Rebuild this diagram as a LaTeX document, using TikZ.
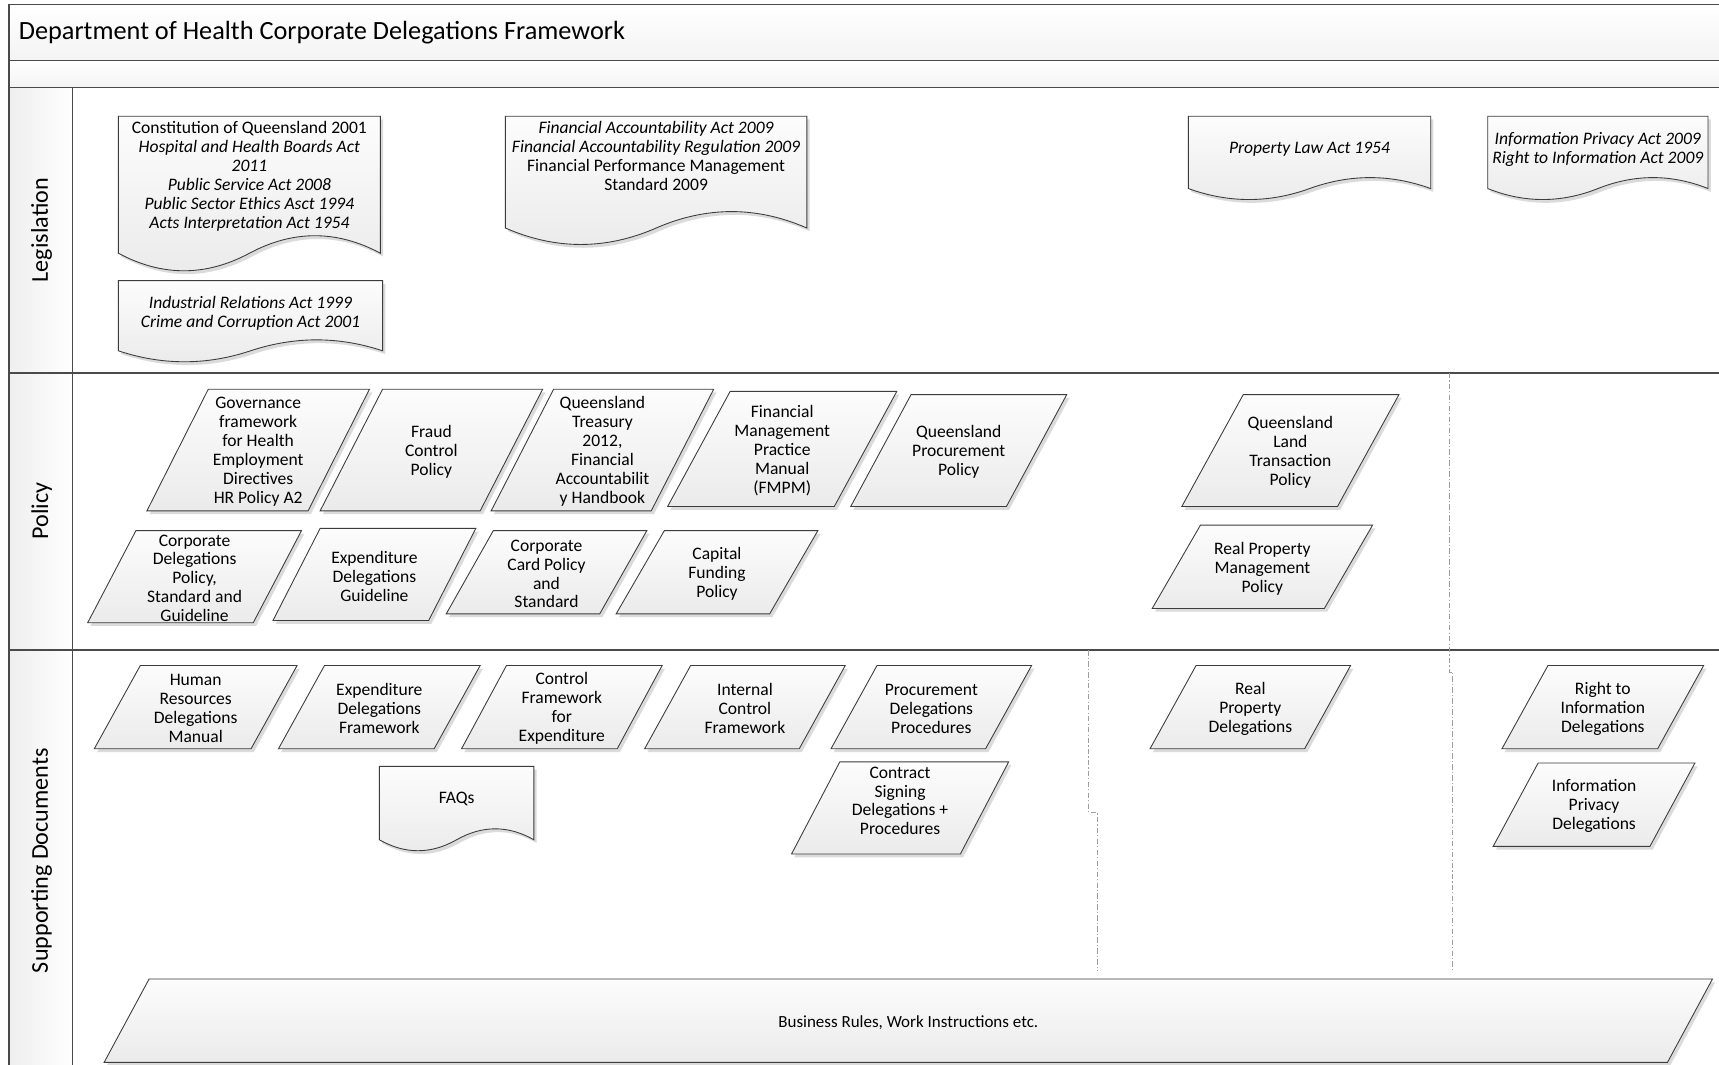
\documentclass[tikz,border=0pt]{standalone}
\usepackage{fontspec}
\setmainfont{Carlito}
\usetikzlibrary{calc}
\definecolor{framec}{HTML}{4A4A4A}
\definecolor{shapec}{HTML}{3C3C3C}
\tikzset{
  bandfill/.style={top color=white, bottom color=gray!9, draw=none},
  framel/.style={draw=framec, line width=1.4pt},
  shapefill/.style={top color=gray!2, bottom color=gray!16, draw=shapec, line width=0.8pt},
  shapeshadow/.style={fill=gray!28, draw=none},
  txt/.style={align=center, inner sep=0pt, yshift=-1.5pt, font=\fontsize{16}{17.3}\selectfont},
  lanelabel/.style={rotate=90, inner sep=0pt, font=\fontsize{22}{26}\selectfont},
  sepline/.style={draw=gray!75, line width=0.6pt, dash pattern=on 5pt off 2pt on 1pt off 2pt},
}
% parallelogram: [text yshift]{name}{yTop}{yBottom}{xTopLeft}{xTopRight}{skew}{text}
\newcommand\para[8][0]{%
  \pgfmathsetmacro\pA{#5-#7}\pgfmathsetmacro\pB{#6-#7}%
  \pgfmathsetmacro\pcx{(#5+#6-#7)/2}\pgfmathsetmacro\pcy{(#3+#4)/2+#1}%
  \path[shapeshadow, shift={(2.5,3)}] (#5,#3) -- (#6,#3) -- (\pB,#4) -- (\pA,#4) -- cycle;
  \path[shapefill] (#5,#3) -- (#6,#3) -- (\pB,#4) -- (\pA,#4) -- cycle;
  \node[txt] (#2) at (\pcx,\pcy) {#8};
}
% document: {name}{xL}{xR}{yTop}{yWaveBase}{amplitude}{text y}{text}
\newcommand\docu[8]{%
  \pgfmathsetmacro\dw{#3-#2}\pgfmathsetmacro\dm{(#2+#3)/2}%
  \pgfmathsetmacro\dra{#3-0.1667*\dw}\pgfmathsetmacro\drb{#3-0.3333*\dw}%
  \pgfmathsetmacro\dla{#2+0.3333*\dw}\pgfmathsetmacro\dlb{#2+0.1667*\dw}%
  \pgfmathsetmacro\dup{#5-1.333*#6}\pgfmathsetmacro\ddn{#5+1.333*#6}%
  \path[shapeshadow, shift={(2.5,3)}] (#2,#4) -- (#3,#4) -- (#3,#5) .. controls (\dra,\dup) and (\drb,\dup) .. (\dm,#5) .. controls (\dla,\ddn) and (\dlb,\ddn) .. (#2,#5) -- cycle;
  \path[shapefill] (#2,#4) -- (#3,#4) -- (#3,#5) .. controls (\dra,\dup) and (\drb,\dup) .. (\dm,#5) .. controls (\dla,\ddn) and (\dlb,\ddn) .. (#2,#5) -- cycle;
  \node[txt] (#1) at (\dm,#7) {#8};
}
\begin{document}
\begin{tikzpicture}[x=1pt, y=-1pt]
\useasboundingbox (0,0) rectangle (1568,971);
\clip (0,0) rectangle (1568,971);
\fill[white] (0,0) rectangle (1568,971);

% ---- frame ----
\path[bandfill] (8,4) rectangle (1580,55);
\path[bandfill] (8,55) rectangle (1580,80);
\path[left color=gray!13, right color=white] (8,80) rectangle (66,990);
\draw[framel] (1580,4) -- (8,4) -- (8,990);
\draw[framel] (8,55) -- (1580,55);
\draw[framel] (8,80) -- (1580,80);
\draw[framel] (66,80) -- (66,990);
\draw[framel] (8,340) -- (1580,340);
\draw[framel] (8,593) -- (1580,593);

\node[anchor=west, inner sep=0pt, font=\fontsize{24}{28}\selectfont] (title) at (17,30) {Department of Health Corporate Delegations Framework};

\node[lanelabel] (lleg) at (38,210) {Legislation};
\node[lanelabel] (lpol) at (38,466) {Policy};
\node[lanelabel] (lsup) at (38,785) {Supporting Documents};

% ---- separators ----
\coordinate (s1a) at (1322,340); \coordinate (s1b) at (1322,613);
\coordinate (s1c) at (1325,613); \coordinate (s1d) at (1325,886);
\draw[sepline] (s1a) -- (s1b) -- (s1c) -- (s1d);
\coordinate (s2a) at (993,593); \coordinate (s2b) at (993,741);
\coordinate (s2c) at (1001,741); \coordinate (s2d) at (1001,886);
\draw[sepline] (s2a) -- (s2b) -- (s2c) -- (s2d);

% ---- Legislation ----
\docu{leg1}{108}{347}{106}{231}{16}{159}{Constitution of Queensland 2001\\\textit{Hospital and Health Boards Act}\\\textit{2011}\\\textit{Public Service Act 2008}\\\textit{Public Sector Ethics Asct 1994}\\\textit{Acts Interpretation Act 1954}}
\docu{leg2}{108}{349}{256}{320}{10}{284}{\textit{Industrial Relations Act 1999}\\\textit{Crime and Corruption Act 2001}}
\docu{leg3}{461}{736}{106}{208}{15}{141}{\textit{Financial Accountability Act 2009}\\\textit{Financial Accountability Regulation 2009}\\Financial Performance Management\\Standard 2009}
\docu{leg4}{1084}{1305}{106}{172}{10}{135}{\textit{Property Law Act 1954}}
\docu{leg5}{1357}{1558}{106}{172}{10}{135}{\textit{Information Privacy Act 2009}\\\textit{Right to Information Act 2009}}

% ---- Policy ----
\para{p1}{355}{466}{190}{337}{56}{Governance\\framework\\for Health\\Employment\\Directives\\HR Policy A2}
\para{p2}{355}{466}{349}{495}{57}{Fraud\\Control\\Policy}
\para{p3}{355}{466}{505}{651}{57}{Queensland\\Treasury\\2012,\\Financial\\Accountabilit\\y Handbook}
\para{p4}{357}{462}{666}{818}{57}{Financial\\Management\\Practice\\Manual\\(FMPM)}
\para{p5}{360}{462}{831}{973}{55}{Queensland\\Procurement\\Policy}
\para{p6}{360}{462}{1134}{1276}{56}{Queensland\\Land\\Transaction\\Policy}
\para{p7}{484}{568}{124}{275}{44}{Corporate\\Delegations\\Policy,\\Standard and\\Guideline}
\para{p8}{482}{566}{292}{434}{43}{Expenditure\\Delegations\\Guideline}
\para{p9}{484}{560}{450}{590}{43}{Corporate\\Card Policy\\and\\Standard}
\para{p10}{484}{560}{606}{746}{44}{Capital\\Funding\\Policy}
\para{p11}{479}{555}{1095}{1252}{44}{Real Property\\Management\\Policy}

% ---- Supporting Documents ----
\para{s1}{607}{683}{128}{271}{42}{Human\\Resources\\Delegations\\Manual}
\para{s2}{607}{683}{296}{438}{42}{Expenditure\\Delegations\\Framework}
\para{s3}{607}{683}{462}{604}{41}{Control\\Framework\\for\\Expenditure}
\para{s4}{607}{683}{630}{771}{42}{Internal\\Control\\Framework}
\para{s5}{607}{683}{800}{941}{42}{Procurement\\Delegations\\Procedures}
\para[-8]{s6}{695}{779}{766}{920}{44}{Contract\\Signing\\Delegations +\\Procedures}
\para{s7}{607}{683}{1091}{1232}{42}{Real\\Property\\Delegations}
\para{s8}{607}{683}{1412}{1554}{42}{Right to\\Information\\Delegations}
\para{s9}{696}{772}{1403}{1546}{41}{Information\\Privacy\\Delegations}
\docu{faq}{346}{487}{699}{766}{10}{727}{FAQs}
\para{br}{893}{969}{136}{1562}{41}{{\fontsize{15.5}{18}\selectfont Business Rules, Work Instructions etc.}}
\end{tikzpicture}
\end{document}
